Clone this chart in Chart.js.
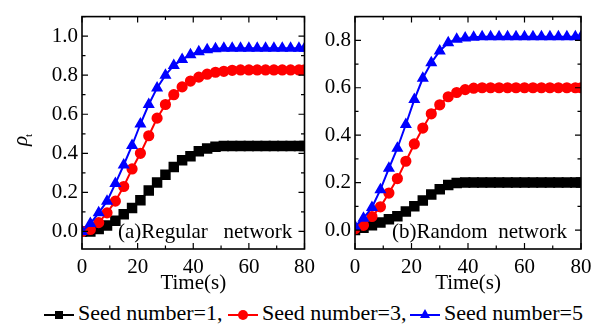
<!DOCTYPE html>
<html>
<head>
<meta charset="utf-8">
<script src="https://cdn.jsdelivr.net/npm/chart.js@4.4.0/dist/chart.umd.min.js"></script>
<style>
  html, body { margin: 0; padding: 0; background: #fff; }
  body { width: 607px; height: 331px; position: relative; overflow: hidden; font-family: "Liberation Serif", "Times New Roman", serif; }
  #left-wrap { position: absolute; left: 0; top: 0; width: 321px; height: 300px; }
  #right-wrap { position: absolute; left: 321px; top: 0; width: 286px; height: 300px; }
  #legend { position: absolute; left: 0; top: 302px; width: 607px; height: 29px; font-size: 22px; line-height: 22px; color: #000; }
  .item { position: absolute; top: 0; white-space: nowrap; }
  .line { position: absolute; top: 12px; width: 30px; height: 2px; }
  .mark { position: absolute; }
  .txt { position: absolute; top: 0; }
</style>
</head>
<body>
<div id="left-wrap"><canvas id="regular-chart" width="321" height="300"></canvas></div>
<div id="right-wrap"><canvas id="random-chart" width="286" height="300"></canvas></div>
<div id="legend"></div>
<script>
// time axis (s)
const times = [0, 3, 6, 9, 12, 15, 18, 21, 24, 27, 30, 33, 36, 39, 42, 45, 48, 51, 54, 57, 60, 63, 66, 69, 72, 75, 78, 80];

// (a) regular network
const regularSeed1 = [0, 0, 0.012, 0.03, 0.055, 0.088, 0.12, 0.16, 0.21, 0.25, 0.29, 0.33, 0.365, 0.385, 0.41, 0.425, 0.433, 0.437,
  0.438, 0.438, 0.438, 0.438, 0.438, 0.438, 0.438, 0.438, 0.438, 0.438];
const regularSeed3 = [0, 0.01, 0.045, 0.095, 0.155, 0.23, 0.32, 0.40, 0.49, 0.58, 0.65, 0.70, 0.74, 0.77, 0.79, 0.805, 0.815, 0.82, 0.825,
  0.827, 0.827, 0.827, 0.827, 0.827, 0.827, 0.827, 0.827, 0.827];
const regularSeed5 = [0, 0.04, 0.095, 0.155, 0.245, 0.34, 0.44, 0.55, 0.65, 0.735, 0.80, 0.85, 0.88, 0.905, 0.92, 0.93, 0.935,
  0.938, 0.938, 0.938, 0.938, 0.938, 0.938, 0.938, 0.938, 0.938, 0.938, 0.938];

// (b) random network
const randomSeed1 = [0, 0.01, 0.02, 0.032, 0.045, 0.058, 0.078, 0.1, 0.125, 0.15, 0.172, 0.19, 0.198, 0.2,
  0.2, 0.2, 0.2, 0.2, 0.2, 0.2, 0.2, 0.2, 0.2, 0.2, 0.2, 0.2, 0.2, 0.2];
const randomSeed3 = [0.005, 0.02, 0.057, 0.098, 0.156, 0.217, 0.29, 0.363, 0.43, 0.49, 0.528, 0.562, 0.58, 0.592, 0.598,
  0.6, 0.6, 0.6, 0.6, 0.6, 0.6, 0.6, 0.6, 0.6, 0.6, 0.6, 0.6, 0.6];
const randomSeed5 = [0.015, 0.05, 0.095, 0.17, 0.26, 0.345, 0.445, 0.55, 0.64, 0.705, 0.755, 0.79, 0.805, 0.81, 0.813,
  0.815, 0.815, 0.815, 0.815, 0.815, 0.815, 0.815, 0.815, 0.815, 0.815, 0.815, 0.815, 0.815];

const xTicks = [0, 20, 40, 60, 80];
const regularYTicks = [0, 0.2, 0.4, 0.6, 0.8, 1.0];
const randomYTicks = [0, 0.2, 0.4, 0.6, 0.8];
const seedLabels = ['Seed number=1,', 'Seed number=3,', 'Seed number=5'];
const seedColors = ['#000000', '#ff0000', '#0000ff'];

const serif = '"Liberation Serif", "Times New Roman", serif';

// --- frame, inward ticks, panel note, y title ---
const framePlugin = {
  id: 'frame',
  afterDatasetsDraw(chart, args, opts) {
    const { ctx, chartArea: a } = chart;
    const x = chart.scales.x, y = chart.scales.y;
    ctx.save();
    ctx.strokeStyle = '#000';
    ctx.lineWidth = 1.2;
    ctx.beginPath();
    for (let t = 0; t <= 80; t += 10) {
      const px = x.getPixelForValue(t);
      const len = t % 20 === 0 ? 6 : 3.5;
      ctx.moveTo(px, a.bottom); ctx.lineTo(px, a.bottom - len);
      ctx.moveTo(px, a.top); ctx.lineTo(px, a.top + len);
    }
    for (let k = 0; k / 10 <= y.max; k++) {
      const py = y.getPixelForValue(k / 10);
      const len = k % 2 === 0 ? 6 : 3.5;
      ctx.moveTo(a.left, py); ctx.lineTo(a.left + len, py);
      ctx.moveTo(a.right, py); ctx.lineTo(a.right - len, py);
    }
    ctx.stroke();
    ctx.lineWidth = 1.6;
    ctx.strokeRect(a.left, a.top, a.right - a.left, a.bottom - a.top);

    ctx.fillStyle = '#000';
    ctx.font = '21px ' + serif;
    ctx.textAlign = 'left';
    ctx.textBaseline = 'alphabetic';
    ctx.fillText(opts.note, opts.noteX, opts.noteY);

    if (opts.yTitle) {
      ctx.translate(27, 146);
      ctx.rotate(-Math.PI / 2);
      ctx.font = 'italic 21px ' + serif;
      ctx.fillText('\u03c1', 0, 0);
      const w = ctx.measureText('\u03c1').width;
      ctx.font = '11px ' + serif;
      ctx.fillText('t', w - 1, 5);
    }
    ctx.restore();
  }
};

function series(values) {
  return times.map((t, i) => ({ x: t, y: values[i] }));
}

function makeDatasets(s1, s3, s5) {
  return [
    { label: seedLabels[0], data: series(s1), borderColor: seedColors[0], backgroundColor: seedColors[0],
      pointStyle: 'rect', pointRadius: 6, borderWidth: 2, order: 2 },
    { label: seedLabels[1], data: series(s3), borderColor: seedColors[1], backgroundColor: seedColors[1],
      pointStyle: 'circle', pointRadius: 4.6, borderWidth: 2, order: 1 },
    { label: seedLabels[2], data: series(s5), borderColor: seedColors[2], backgroundColor: seedColors[2],
      pointStyle: 'triangle', pointRadius: 5, borderWidth: 2, order: 0 }
  ];
}

function makeOptions(yMin, yMax, yTicks, yWidth, padRight, frame) {
  const tickFont = { family: serif, size: 21 };
  return {
    responsive: false,
    animation: false,
    devicePixelRatio: 1,
    layout: { padding: { left: 0, top: 9, right: padRight, bottom: 0 } },
    plugins: { legend: { display: false }, tooltip: { enabled: false }, frame: frame },
    elements: { line: { tension: 0 }, point: { borderWidth: 1 } },
    scales: {
      x: {
        type: 'linear', min: 0, max: 80,
        grid: { display: false, drawTicks: false }, border: { display: false },
        afterBuildTicks: (s) => { s.ticks = xTicks.map(v => ({ value: v })); },
        afterFit: (s) => { s.height = 51; },
        ticks: { font: tickFont, color: '#000', padding: 6, maxRotation: 0, callback: v => String(v) },
        title: { display: true, text: 'Time(s)', font: tickFont, color: '#000', padding: { top: 0, bottom: 4 } }
      },
      y: {
        type: 'linear', min: yMin, max: yMax,
        grid: { display: false, drawTicks: false }, border: { display: false },
        afterBuildTicks: (s) => { s.ticks = yTicks.map(v => ({ value: v })); },
        afterFit: (s) => { s.width = yWidth; },
        ticks: { font: tickFont, color: '#000', padding: 4, callback: v => Number(v).toFixed(1) }
      }
    }
  };
}

new Chart(document.getElementById('regular-chart'), {
  type: 'line',
  data: { datasets: makeDatasets(regularSeed1, regularSeed3, regularSeed5) },
  options: makeOptions(-0.09, 1.10, regularYTicks, 82, 15,
    { note: '(a)Regular   network', noteX: 118, noteY: 238, yTitle: true }),
  plugins: [framePlugin]
});

new Chart(document.getElementById('random-chart'), {
  type: 'line',
  data: { datasets: makeDatasets(randomSeed1, randomSeed3, randomSeed5) },
  options: makeOptions(-0.08, 0.90, randomYTicks, 34, 26,
    { note: '(b)Random  network', noteX: 71, noteY: 238, yTitle: false }),
  plugins: [framePlugin]
});

// --- legend ---
const legend = document.getElementById('legend');
const legendX = [44, 228, 410];
const markHtml = [
  '<div class="mark" style="left:11px;top:9px;width:8px;height:8px;background:#000"></div>',
  '<div class="mark" style="left:10px;top:8px;width:10px;height:10px;border-radius:50%;background:#ff0000"></div>',
  '<div class="mark" style="left:10px;top:7px;width:0;height:0;border-left:5px solid transparent;border-right:5px solid transparent;border-bottom:9px solid #0000ff"></div>'
];
seedLabels.forEach((label, i) => {
  const item = document.createElement('div');
  item.className = 'item';
  item.style.left = legendX[i] + 'px';
  item.innerHTML = `<div class="line" style="background:${seedColors[i]}"></div>${markHtml[i]}<span class="txt" style="left:34px">${label}</span>`;
  legend.appendChild(item);
});
</script>
</body>
</html>
